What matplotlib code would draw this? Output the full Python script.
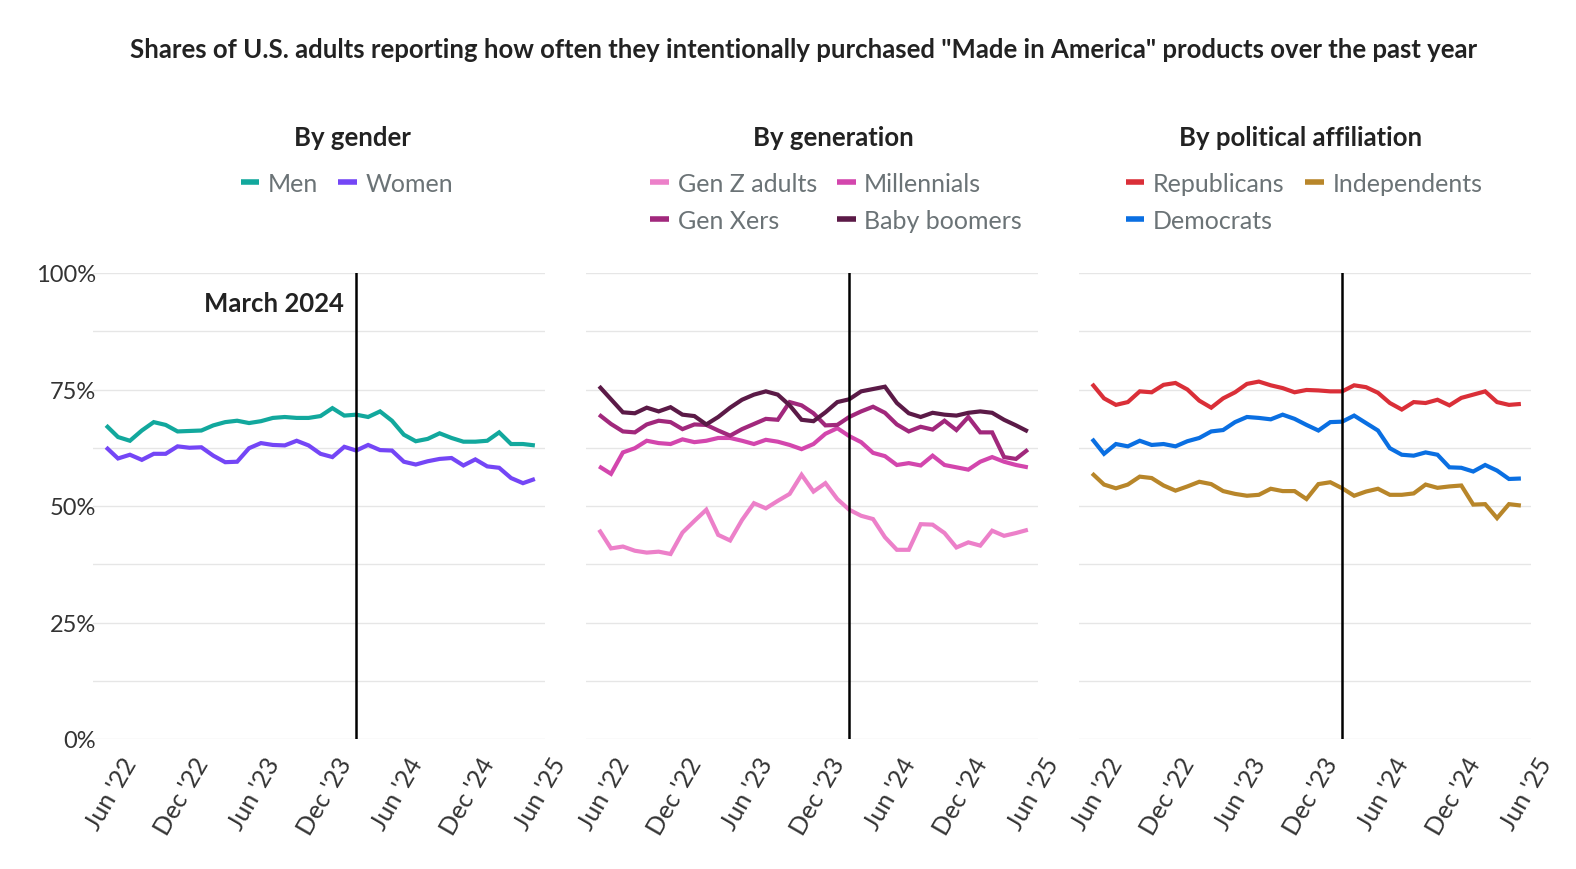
import matplotlib
matplotlib.use("Agg")
import matplotlib.pyplot as plt
import matplotlib.transforms as mtransforms
from matplotlib.lines import Line2D

plt.rcParams['font.family'] = ['Lato', 'DejaVu Sans']

# monthly readings, Jun 2022 .. Jun 2025 (37 months)
months = list(range(37))
tick_pos = [0, 6, 12, 18, 24, 30, 36]
tick_labels = ["Jun '22", "Dec '22", "Jun '23", "Dec '23", "Jun '24", "Dec '24", "Jun '25"]
march_2024 = 21

men = [67.3, 64.8, 64.0, 66.2, 68.0, 67.4, 66.0, 66.1, 66.2, 67.3, 68.0, 68.3, 67.8,
       68.2, 68.9, 69.1, 68.9, 68.9, 69.3, 71.0, 69.4, 69.6, 69.1, 70.3, 68.3, 65.3,
       63.9, 64.4, 65.6, 64.6, 63.8, 63.8, 64.0, 65.8, 63.3, 63.3, 63.0]
women = [62.6, 60.2, 61.0, 59.9, 61.2, 61.2, 62.8, 62.5, 62.6, 60.8, 59.4, 59.5, 62.4,
         63.5, 63.1, 63.0, 64.0, 63.0, 61.2, 60.5, 62.7, 61.9, 63.1, 62.0, 61.9, 59.5,
         58.9, 59.6, 60.1, 60.3, 58.7, 60.0, 58.5, 58.2, 56.0, 54.9, 55.8]

gen_z = [44.9, 40.9, 41.3, 40.4, 40.0, 40.2, 39.7, 44.3, 46.8, 49.2, 43.8, 42.6, 47.0,
         50.6, 49.5, 51.1, 52.6, 56.7, 53.1, 54.9, 51.5, 49.2, 47.9, 47.2, 43.3, 40.6,
         40.6, 46.1, 46.0, 44.2, 41.1, 42.2, 41.5, 44.7, 43.6, 44.2, 44.9]
millennials = [58.5, 56.9, 61.5, 62.4, 64.0, 63.5, 63.3, 64.3, 63.7, 64.0, 64.6, 64.6, 64.0,
               63.3, 64.2, 63.8, 63.1, 62.2, 63.3, 65.5, 66.7, 65.0, 63.7, 61.4, 60.7, 58.8,
               59.2, 58.7, 60.8, 58.8, 58.3, 57.8, 59.5, 60.5, 59.5, 58.8, 58.3]
gen_x = [69.6, 67.6, 66.0, 65.8, 67.5, 68.3, 68.0, 66.5, 67.5, 67.4, 66.2, 65.1, 66.5,
         67.6, 68.7, 68.5, 72.3, 71.6, 69.9, 67.3, 67.4, 69.1, 70.3, 71.3, 70.0, 67.5,
         66.0, 67.0, 66.4, 68.3, 66.3, 69.1, 65.8, 65.8, 60.5, 60.1, 62.1]
boomers = [75.7, 72.9, 70.1, 69.9, 71.1, 70.3, 71.2, 69.6, 69.3, 67.5, 69.1, 71.1, 72.8,
           73.9, 74.6, 73.9, 71.6, 68.5, 68.2, 70.1, 72.3, 72.9, 74.6, 75.1, 75.6, 72.1,
           69.9, 69.1, 70.0, 69.6, 69.4, 70.0, 70.3, 70.0, 68.5, 67.3, 66.0]

republicans = [76.2, 73.1, 71.7, 72.3, 74.6, 74.4, 76.0, 76.4, 75.0, 72.6, 71.1, 73.1, 74.4,
               76.2, 76.7, 75.9, 75.3, 74.4, 74.9, 74.8, 74.6, 74.6, 75.9, 75.5, 74.3, 72.1,
               70.7, 72.3, 72.1, 72.8, 71.6, 73.2, 73.9, 74.6, 72.3, 71.7, 71.9]
democrats = [64.4, 61.2, 63.3, 62.8, 64.0, 63.1, 63.3, 62.8, 63.9, 64.6, 66.0, 66.3, 68.0,
             69.1, 68.9, 68.6, 69.6, 68.7, 67.4, 66.2, 68.0, 68.1, 69.4, 67.8, 66.2, 62.4,
             61.0, 60.8, 61.5, 61.0, 58.3, 58.2, 57.4, 58.8, 57.6, 55.8, 55.9]
independents = [57.0, 54.6, 53.8, 54.6, 56.3, 56.0, 54.4, 53.3, 54.2, 55.2, 54.7, 53.2, 52.6,
                52.2, 52.4, 53.7, 53.2, 53.2, 51.5, 54.7, 55.1, 53.8, 52.2, 53.1, 53.7, 52.4,
                52.4, 52.7, 54.6, 53.9, 54.2, 54.4, 50.3, 50.4, 47.4, 50.4, 50.1]

panels = [
    ("By gender", [("Men", men, "#12a89d"), ("Women", women, "#7446f6")]),
    ("By generation", [("Gen Z adults", gen_z, "#ec80c9"), ("Millennials", millennials, "#d346ad"),
                       ("Gen Xers", gen_x, "#a1287c"), ("Baby boomers", boomers, "#5b1a47")]),
    ("By political affiliation", [("Republicans", republicans, "#da2f38"),
                                  ("Independents", independents, "#b8862a"),
                                  ("Democrats", democrats, "#0a6fe2")]),
]

W, H = 1576, 870
fig = plt.figure(figsize=(W / 100, H / 100), dpi=100)

fig.text(804 / W, 1 - 50 / H, 'Shares of U.S. adults reporting how often they intentionally purchased "Made in America" products over the past year',
         ha='center', va='center', fontsize=18.5, fontweight='bold', color='#222222')

lefts = [93, 586, 1079]
title_x = [352, 833, 1301]
legend_x = [347, 836, 1304]
legend_order = [[0, 1], [0, 2, 1, 3], [0, 2, 1]]

for k, (name, series) in enumerate(panels):
    ax = fig.add_axes([lefts[k] / W, (H - 740) / H, 452 / W, 466 / H])
    handles = []
    for label, vals, col in series:
        ax.plot(months, vals, color=col, lw=3, solid_joinstyle='miter', solid_capstyle='butt')
        handles.append(Line2D([], [], color=col, lw=4, solid_capstyle='butt', label=label))
    ax.axvline(march_2024, color='black', lw=1.8, zorder=5)

    ax.set_xlim(-1.1, 36.85)
    ax.set_ylim(0, 100)
    ax.set_yticks([0, 25, 50, 75, 100])
    ax.set_yticks([12.5, 37.5, 62.5, 87.5], minor=True)
    ax.grid(axis='y', which='both', color='#e6e6e6', lw=1)
    ax.set_axisbelow(True)
    for s in ax.spines.values():
        s.set_visible(False)
    ax.tick_params(axis='both', which='both', length=0)
    if k == 0:
        ax.set_yticklabels(['0%', '25%', '50%', '75%', '100%'], fontsize=17, color='#333333')
        ax.tick_params(axis='y', pad=-2)
        ax.text(march_2024 - 1, 93.5, 'March 2024', ha='right', va='center',
                fontsize=18.5, fontweight='bold', color='#222222')
    else:
        ax.set_yticklabels([])

    ax.set_xticks(tick_pos)
    ax.set_xticklabels(tick_labels, rotation=60, ha='right', va='top', fontsize=18, color='#333333')
    ax.tick_params(axis='x', pad=10)
    offset = mtransforms.ScaledTranslation(0.35, 0, fig.dpi_scale_trans)
    for lab in ax.get_xticklabels():
        lab.set_transform(lab.get_transform() + offset)

    fig.text(title_x[k] / W, 1 - 138 / H, name, ha='center', va='center',
             fontsize=18.5, fontweight='bold', color='#222222')

    ordered = [handles[i] for i in legend_order[k]]
    ly = 184 if k == 0 else 203
    fig.legend(handles=ordered, loc='center', bbox_to_anchor=(legend_x[k] / W, 1 - ly / H),
               ncol=2, frameon=False, fontsize=18, labelcolor='#6b7376',
               handlelength=0.75, handletextpad=0.35, columnspacing=0.8, labelspacing=0.55)

fig.savefig('out.png', dpi=100)
